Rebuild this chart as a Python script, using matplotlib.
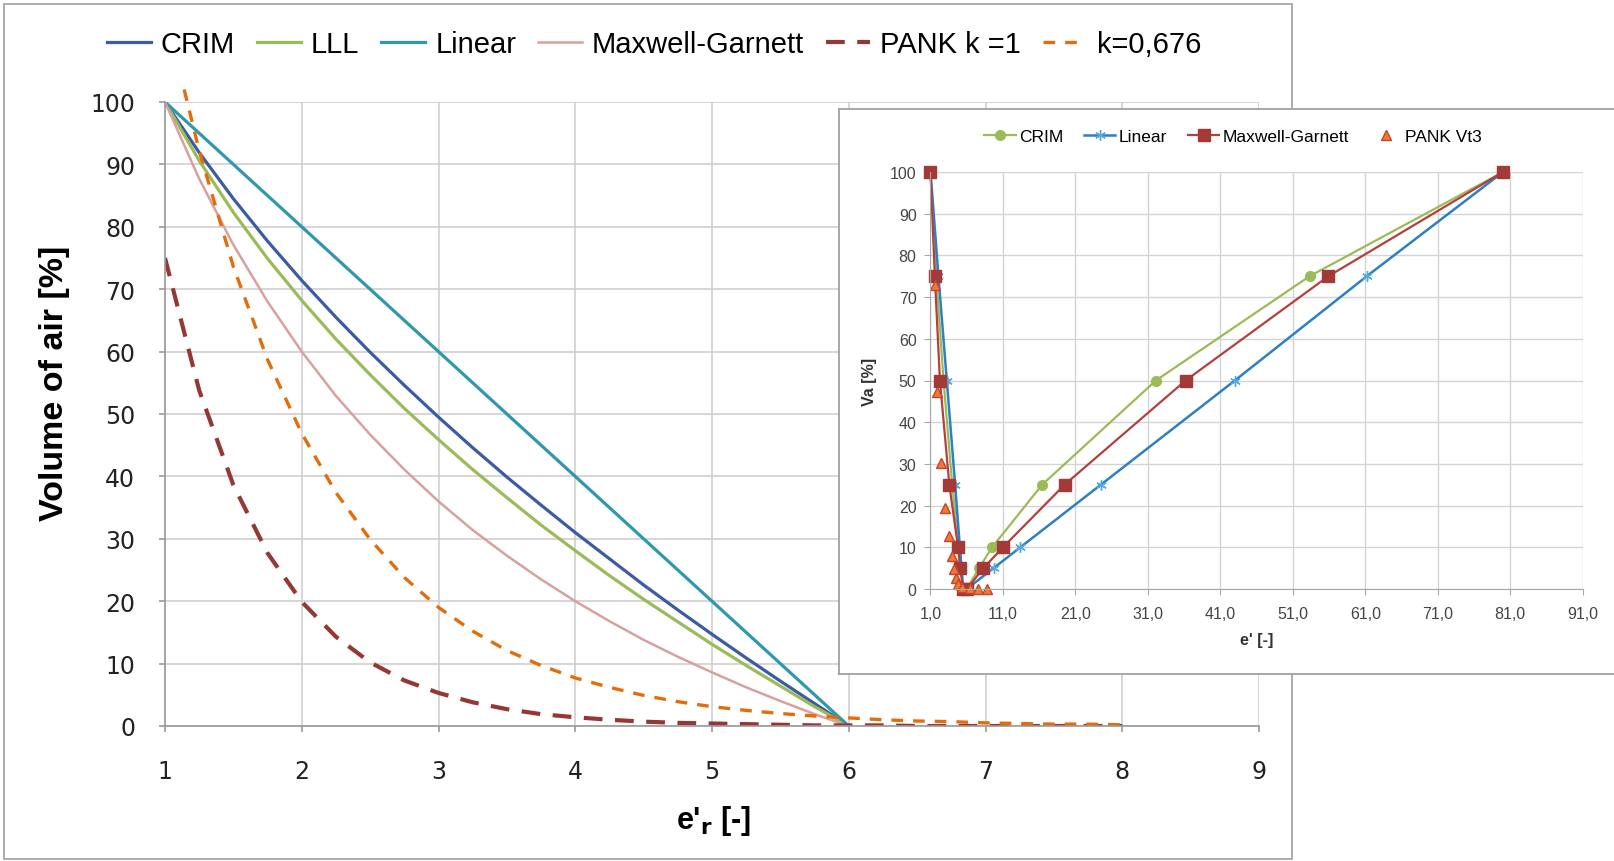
import matplotlib
matplotlib.use('Agg')
import matplotlib.pyplot as plt
from matplotlib.patches import Rectangle

## Data ##
# Main chart: volume of air vs. relative permittivity for the mixing models
eps_main = [1.0, 1.25, 1.5, 1.75, 2.0, 2.25, 2.5, 2.75, 3.0, 3.25, 3.5,
            3.75, 4.0, 4.25, 4.5, 4.75, 5.0, 5.25, 5.5, 5.75, 6.0]
crim = [100, 91.9, 84.5, 77.7, 71.4, 65.5, 59.9, 54.6, 49.5, 44.6, 39.9,
        35.4, 31.0, 26.8, 22.6, 18.6, 14.7, 10.9, 7.2, 3.6, 0]
lll = [100, 90.6, 82.3, 74.9, 68.2, 62.0, 56.3, 50.9, 45.9, 41.1, 36.6,
       32.2, 28.1, 24.1, 20.3, 16.7, 13.1, 9.7, 6.4, 3.1, 0]
linear = [100, 95, 90, 85, 80, 75, 70, 65, 60, 55, 50,
          45, 40, 35, 30, 25, 20, 15, 10, 5, 0]
maxwell = [100, 87.7, 77.1, 68.0, 60.0, 52.9, 46.7, 41.1, 36.0, 31.4, 27.3,
           23.5, 20.0, 16.8, 13.8, 11.1, 8.6, 6.2, 4.0, 1.9, 0]

eps_k1 = [1.0, 1.25, 1.5, 1.75, 2.0, 2.25, 2.5, 2.75, 3.0, 3.25, 3.5, 3.75,
          4.0, 4.25, 4.5, 4.75, 5.0, 5.25, 5.5, 5.75, 6.0, 6.25, 6.5, 6.75,
          7.0, 7.25, 7.5, 7.75, 8.0]
pank_k1 = [75, 53.8, 38.6, 27.7, 19.9, 14.3, 10.2, 7.3, 5.3, 3.8, 2.7, 1.9,
           1.4, 1.0, 0.7, 0.5, 0.4, 0.3, 0.2, 0.1, 0.1, 0.1, 0.0, 0.0,
           0.0, 0.0, 0.0, 0.0, 0.0]
eps_k676 = [1.14, 1.25, 1.5, 1.75, 2.0, 2.25, 2.5, 2.75, 3.0, 3.25, 3.5, 3.75,
            4.0, 4.25, 4.5, 4.75, 5.0, 5.25, 5.5, 5.75, 6.0, 6.25, 6.5, 6.75,
            7.0, 7.25, 7.5, 7.75, 8.0]
pank_k676 = [102, 92.2, 73.6, 58.7, 46.9, 37.4, 29.9, 23.8, 19.0, 15.2, 12.1, 9.7,
             7.7, 6.2, 4.9, 3.9, 3.1, 2.5, 2.0, 1.6, 1.3, 1.0, 0.8, 0.7,
             0.5, 0.4, 0.3, 0.3, 0.2]

# Inset chart: air branch down to 0 then water branch up to e'=80
ins_va = [100, 75, 50, 25, 10, 5, 0, 0, 5, 10, 25, 50, 75, 100]
ins_crim_x = [1.0, 1.8, 2.8, 4.0, 4.9, 5.2, 5.5, 6.0, 7.7, 9.5, 16.4, 32.1, 53.3, 80.0]
ins_linear_x = [1.0, 2.1, 3.25, 4.4, 5.05, 5.3, 5.5, 6.0, 9.7, 13.4, 24.5, 43.0, 61.2, 80.0]
ins_mg_x = [1.0, 1.6, 2.3, 3.6, 4.8, 5.1, 5.5, 6.0, 8.3, 11.0, 19.5, 36.2, 55.9, 80.0]
vt3_x = [1.6, 1.95, 2.5, 3.05, 3.5, 3.9, 4.2, 4.5, 4.8, 5.4, 6.4, 7.6, 8.8]
vt3_y = [72.8, 47.2, 30.3, 19.5, 12.6, 8.0, 4.8, 2.6, 1.3, 0.5, 0.2, 0.1, 0.0]

main_xticks = [1, 2, 3, 4, 5, 6, 7, 8, 9]
main_yticks = [0, 10, 20, 30, 40, 50, 60, 70, 80, 90, 100]
ins_xticks = [1, 11, 21, 31, 41, 51, 61, 71, 81, 91]
ins_xlabels = ['1,0', '11,0', '21,0', '31,0', '41,0', '51,0', '61,0', '71,0', '81,0', '91,0']

## Plot ##
plt.rcParams['font.family'] = ['Liberation Sans', 'DejaVu Sans']
W, H = 1615, 862
fig = plt.figure(figsize=(W / 100, H / 100), dpi=100)
fig.patch.set_facecolor('white')

def fx(px):
    return px / W

def fy(py):
    return 1 - py / H

# outer frame of the main chart
fig.patches.append(Rectangle((fx(4), fy(860)), fx(1292) - fx(4), fy(5) - fy(860),
                             transform=fig.transFigure, fill=False,
                             edgecolor='#a6a6a6', linewidth=1.3, zorder=-1))

grid_col = '#cfcfcf'
axis_col = '#9a9a9a'

ax = fig.add_axes([fx(165), fy(727), fx(1259) - fx(165), fy(103) - fy(727)])
ax.plot(eps_main, crim, color='#3b5ba5', lw=2.3, label='CRIM')
ax.plot(eps_main, lll, color='#9bbb59', lw=2.3, label='LLL')
ax.plot(eps_main, linear, color='#2f97ae', lw=2.3, label='Linear')
ax.plot(eps_main, maxwell, color='#d9a0a0', lw=1.8, label='Maxwell-Garnett')
ax.plot(eps_k1, pank_k1, color='#953735', lw=3.0, dashes=(4.5, 3), label='PANK k =1')
ax.plot(eps_k676, pank_k676, color='#e46c0a', lw=2.4, dashes=(3.5, 3),
        label='k=0,676', clip_on=False)

ax.set_xlim(1, 9)
ax.set_ylim(0, 100)
ax.set_xticks(main_xticks)
ax.set_yticks(main_yticks)
ax.grid(True, color=grid_col, lw=1.2)
ax.set_axisbelow(True)
for s in ['top', 'right']:
    ax.spines[s].set_visible(False)
for s in ['left', 'bottom']:
    ax.spines[s].set_color(axis_col)
    ax.spines[s].set_linewidth(1.2)
ax.tick_params(axis='both', colors=axis_col, length=4.5, width=1.2,
               labelcolor='#222222', labelsize=17)
ax.tick_params(axis='x', pad=19)
ax.tick_params(axis='y', pad=17)
for lab in ax.get_xticklabels() + ax.get_yticklabels():
    lab.set_family('DejaVu Sans')

fig.text(fx(55), fy(383), 'Volume of air [%]', rotation=90, ha='center', va='center',
         fontsize=24.5, fontweight='bold')
fig.text(fx(714), fy(821), "e'$_\\mathbf{r}$ [-]", ha='center', va='center',
         fontsize=22, fontweight='bold')

fig.legend(handles=ax.get_lines(), loc='center', bbox_to_anchor=(fx(654), fy(45)),
           ncol=6, frameon=False, handlelength=1.5, handletextpad=0.35,
           columnspacing=0.75, prop={'size': 21})

# inset panel with its own white frame
bg = fig.add_axes([fx(839), fy(675), fx(1700) - fx(839), fy(110) - fy(675)], zorder=2)
bg.set_xticks([])
bg.set_yticks([])
for s in bg.spines.values():
    s.set_color('#a0a0a0')
    s.set_linewidth(1.3)

ins = fig.add_axes([fx(930.5), fy(590), fx(1582.7) - fx(930.5), fy(173) - fy(590)], zorder=3)
ins.plot(ins_crim_x, ins_va, color='#9bbb59', lw=1.6, marker='o', ms=7,
         label='CRIM', clip_on=False)
ins.plot(ins_linear_x, ins_va, color='#2e7fc4', lw=1.8, marker=(6, 2, 0), ms=7.5,
         mec='#58a8e0', label='Linear', clip_on=False)
ins.plot(ins_mg_x, ins_va, color='#b3403d', lw=1.6, marker='s', ms=8.5,
         mfc='#a33a38', mec='#a33a38', label='Maxwell-Garnett', clip_on=False)
ins.plot(vt3_x, vt3_y, ls='none', marker='^', ms=7, mfc='#f07a35', mec='#c4452a',
         label='PANK Vt3', clip_on=False)

ins.set_xlim(1, 91)
ins.set_ylim(0, 100)
ins.set_xticks(ins_xticks)
ins.set_xticklabels(ins_xlabels)
ins.set_yticks(main_yticks)
ins.grid(True, color='#d4d4d4', lw=1.0)
ins.set_axisbelow(True)
for s in ['top', 'right']:
    ins.spines[s].set_visible(False)
for s in ['left', 'bottom']:
    ins.spines[s].set_color('#a8a8a8')
ins.tick_params(axis='both', colors='#a8a8a8', length=4, labelcolor='#444444', labelsize=11.5)
ins.tick_params(axis='x', pad=8)
ins.tick_params(axis='y', pad=6)
ins.set_xlabel("e' [-]", fontsize=11.5, fontweight='bold', color='#333333', labelpad=8)
ins.set_ylabel('Va [%]', fontsize=11.5, fontweight='bold', color='#333333', labelpad=9)
ins.legend(loc='center', bbox_to_anchor=(fx(1233), fy(137)), bbox_transform=fig.transFigure,
           ncol=4, frameon=False, handlelength=1.8, handletextpad=0.2, columnspacing=1.2,
           fontsize=12.5)

fig.savefig('out.png', dpi=100)
